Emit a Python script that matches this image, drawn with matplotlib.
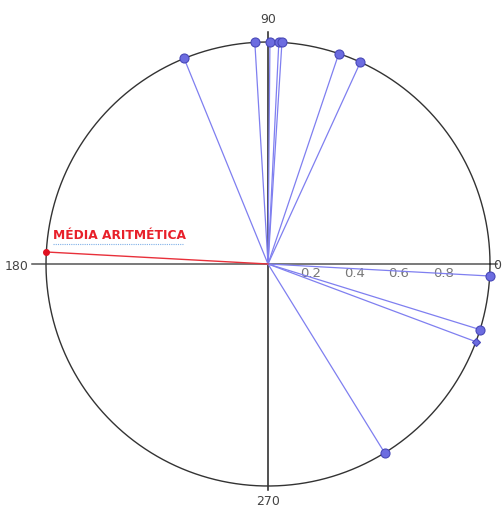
import numpy as np
import matplotlib
matplotlib.use("Agg")
import matplotlib.pyplot as plt

# Data: directions (degrees) of unit vectors
angles_deg = [112.2, 93.4, 89.5, 87.2, 86.4, 71.4, 65.4, -3.1, -17.2, -58.3]
diamond_angles_deg = [-20.5]
mean_angle_deg = 176.9
mean_label = "MÉDIA ARITMÉTICA"
x_tick_values = [0.2, 0.4, 0.6, 0.8]

W, H = 503, 512
cx, cy, R = 268, 264, 222.0

fig = plt.figure(figsize=(W / 100, H / 100), dpi=100)
ax = fig.add_axes([0, 0, 1, 1])
ax.set_xlim(-cx / R, (W - cx) / R)
ax.set_ylim((cy - H) / R, cy / R)
ax.set_aspect("equal")
ax.axis("off")

# axes lines
ax.plot([-1.065, 1.03], [0, 0], color="#555555", lw=1.1, zorder=1)
ax.plot([0, 0], [-1.02, 1.045], color="#222222", lw=1.1, zorder=1)

# unit circle
t = np.linspace(0, 2 * np.pi, 400)
ax.plot(np.cos(t), np.sin(t), color="#333333", lw=1.0, zorder=2)

# tick labels
for v in x_tick_values:
    ax.text(v - 0.01, -0.012, f"{v:.1f}", color="#777777", fontsize=9.5,
            ha="center", va="top", zorder=3)
ax.text(0, 1.072, "90", color="#444444", fontsize=9, ha="center", va="bottom")
ax.text(0, -1.04, "270", color="#444444", fontsize=9, ha="center", va="top")
ax.text(-1.08, -0.01, "180", color="#444444", fontsize=9, ha="right", va="center")
ax.text((W - 1.5 - cx) / R, -0.005, "0", color="#444444", fontsize=9,
        ha="right", va="center", zorder=3)

line_col = "#7f7ff0"
face_col = "#6c6ce0"
edge_col = "#4848b8"

for a in angles_deg:
    r = np.deg2rad(a)
    x, y = np.cos(r), np.sin(r)
    ax.plot([0, x], [0, y], color=line_col, lw=0.9, zorder=4)
    ax.plot(x, y, "o", ms=6.5, mfc=face_col, mec=edge_col, mew=0.8, zorder=6)

for a in diamond_angles_deg:
    r = np.deg2rad(a)
    x, y = np.cos(r), np.sin(r)
    ax.plot([0, x], [0, y], color=line_col, lw=0.9, zorder=4)
    ax.plot(x, y, "D", ms=4.5, mfc=face_col, mec=edge_col, mew=0.8, zorder=6)

# mean direction
r = np.deg2rad(mean_angle_deg)
mx, my = np.cos(r), np.sin(r)
ax.plot([0, mx], [0, my], color="#e8303a", lw=1.0, zorder=5)
ax.plot(mx, my, "o", ms=4, color="#e01020", zorder=7)
ax.text(mx + 0.03, my + 0.045, mean_label, color="#e8202a", fontsize=8.8,
        fontweight="bold", ha="left", va="bottom", zorder=7)
ax.plot([mx + 0.032, mx + 0.62], [my + 0.035, my + 0.035], color="#7fb0e8",
        lw=0.8, ls=(0, (1, 1)), zorder=7)

fig.savefig("out.png", dpi=100)
